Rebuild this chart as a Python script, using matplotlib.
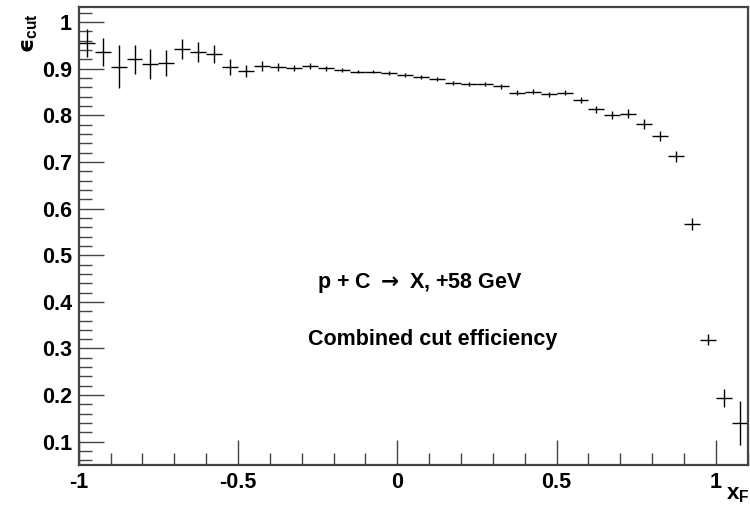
import numpy as np
import matplotlib
matplotlib.use("Agg")
import matplotlib.pyplot as plt
from matplotlib.ticker import MultipleLocator, FormatStrFormatter

plt.rcParams.update({
    "font.family": ["Liberation Sans", "DejaVu Sans"],
    "font.weight": "bold",
    "mathtext.fontset": "custom",
    "mathtext.rm": "Liberation Sans:bold",
    "mathtext.bf": "Liberation Sans:bold",
    "mathtext.sf": "DejaVu Sans:bold",
})

# ── Data: cut efficiency per x_F bin (bin width 0.05) ─────────
xf_centers = np.round(np.arange(-0.975, 1.1, 0.05), 3)
eff = [0.955, 0.936, 0.904, 0.920, 0.910, 0.912, 0.942, 0.936, 0.931, 0.904,
       0.895, 0.906, 0.904, 0.902, 0.906, 0.901, 0.897, 0.894, 0.894, 0.891,
       0.887, 0.882, 0.878, 0.869, 0.867, 0.867, 0.862, 0.849, 0.851, 0.845,
       0.849, 0.833, 0.813, 0.801, 0.804, 0.781, 0.756, 0.712, 0.567, 0.319,
       0.194, 0.140]
eff_err = [0.030, 0.031, 0.046, 0.032, 0.033, 0.028, 0.021, 0.021, 0.019, 0.017,
           0.013, 0.010, 0.008, 0.007, 0.006, 0.005, 0.004, 0.004, 0.004, 0.004,
           0.004, 0.004, 0.004, 0.004, 0.004, 0.004, 0.005, 0.005, 0.005, 0.006,
           0.006, 0.007, 0.008, 0.009, 0.010, 0.011, 0.011, 0.012, 0.012, 0.012,
           0.019, 0.047]
half_width = 0.025

fig = plt.figure(figsize=(7.5, 5.15), dpi=100)
ax = fig.add_axes([0.105, 0.097, 0.892, 0.889])

ax.errorbar(xf_centers, eff, xerr=half_width, yerr=eff_err, fmt="none",
            ecolor="black", elinewidth=1.0, capsize=0)

ax.set_xlim(-1.0, 1.1)
ax.set_ylim(0.05, 1.032)

# ROOT-like ticks: inside, left and bottom only
ax.xaxis.set_major_locator(MultipleLocator(0.5))
ax.xaxis.set_minor_locator(MultipleLocator(0.1))
ax.yaxis.set_major_locator(MultipleLocator(0.1))
ax.yaxis.set_minor_locator(MultipleLocator(0.02))
ax.xaxis.set_major_formatter(FormatStrFormatter("%g"))
ax.yaxis.set_major_formatter(FormatStrFormatter("%g"))
ax.tick_params(which="both", direction="in", top=False, right=False,
               color="#444444", width=1.0)
ax.tick_params(which="major", length=18, labelsize=15.5, pad=5)
ax.tick_params(which="minor", length=9)
for lab in ax.get_xticklabels() + ax.get_yticklabels():
    lab.set_fontweight("bold")

for sp in ax.spines.values():
    sp.set_color("#444444")
    sp.set_linewidth(1.6)

# Axis titles, placed as in ROOT
fig.text(0.04, 0.975, "\u03f5" + r"$_{\mathbf{cut}}$", rotation=90, ha="center",
         va="top", fontsize=16, fontweight="bold",
         family=["DejaVu Sans", "Liberation Sans"])
fig.text(0.983, 0.02, r"x$_{\mathbf{F}}$", ha="center", va="bottom",
         fontsize=16, fontweight="bold")

ax.text(0.07, 0.44, r"p + C $\mathsf{\rightarrow}$ X, +58 GeV", ha="center",
        va="center", fontsize=15.5, fontweight="bold")
ax.text(0.11, 0.32, "Combined cut efficiency", ha="center", va="center",
        fontsize=15.5, fontweight="bold")

fig.savefig("out.png", dpi=100)
